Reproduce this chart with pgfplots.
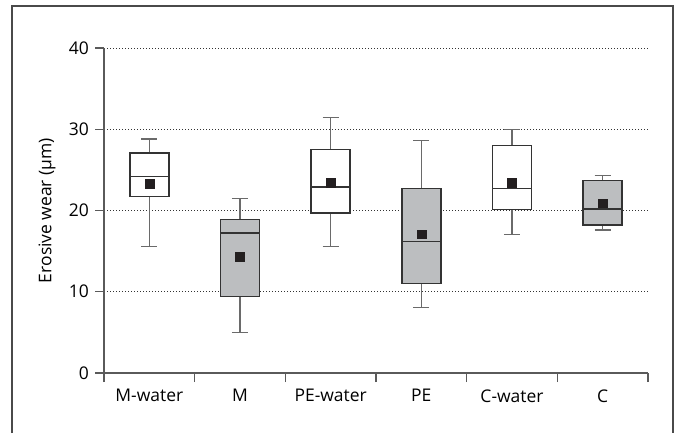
\documentclass[border=0pt]{standalone}
\usepackage{fontspec}
\setmainfont{Open Sans}
\usepackage{pgfplots}
\pgfplotsset{compat=1.18}
\usepgfplotslibrary{statistics}

\definecolor{boxfill}{HTML}{BCBEC0}
\definecolor{boxline}{HTML}{333333}
\definecolor{whisk}{HTML}{6A6A6A}
\definecolor{axisc}{HTML}{5A5A5A}
\definecolor{meanc}{HTML}{231F20}
\definecolor{framec}{HTML}{4A4A4A}

% one pixel of the reference = 0.75pt
\begin{document}
\fontsize{13.1}{15}\selectfont
\begin{tikzpicture}
\useasboundingbox (0,0) rectangle (505.5pt,324.75pt);
\draw[framec, line width=1.5pt] (9pt,0pt) -- (9pt,319.9pt) -- (504.75pt,319.9pt) -- (504.75pt,0pt);

\begin{axis}[
  at={(78pt,45pt)}, anchor=south west,
  scale only axis,
  width=408pt, height=243.75pt,
  xmin=0.5, xmax=6.5,
  ymin=0, ymax=40,
  axis x line=bottom, axis y line=left,
  axis line style={-, axisc, line width=0.8pt},
  tick align=outside,
  ytick={0,10,20,30,40},
  major tick length=6.75pt,
  minor tick length=6.75pt,
  tick style={axisc, line width=0.8pt},
  xtick={1,...,6},
  xticklabels={M-water, M, PE-water, PE, C-water, C},
  major x tick style={draw=none},
  minor xtick={0.5,1.5,2.5,3.5,4.5,5.5,6.5},
  ymajorgrids,
  grid style={black!80, line width=0.6pt, dash pattern=on 0.75pt off 1.5pt},
  /pgf/number format/assume math mode=true,
  ticklabel style={font=\fontsize{13.1}{15}\selectfont},
  xticklabel style={yshift=-1pt},
  ylabel={Erosive wear (µm)},
  every axis y label/.style={at={(axis description cs:-0.1048,0.5)}, rotate=90, anchor=center},
  boxplot/draw direction=y,
]
\pgfplotsset{
  boxplot/box extend=0.43,
  boxplot/whisker extend=0.18,
  boxplot/every box/.style={draw=boxline, line width=1.1pt},
  boxplot/every median/.style={draw=boxline, line width=1.3pt},
  boxplot/every whisker/.style={draw=whisk, line width=0.8pt},
}
% M-water
\addplot+[draw=boxline, fill=white, solid, mark=none, boxplot prepared={draw position=1,
  lower whisker=15.6, lower quartile=21.7, median=24.2,
  upper quartile=27.1, upper whisker=28.8}] coordinates {};
% M
\addplot+[draw=boxline, fill=boxfill, solid, mark=none, boxplot prepared={draw position=2,
  lower whisker=5.0, lower quartile=9.4, median=17.2,
  upper quartile=18.9, upper whisker=21.5}] coordinates {};
% PE-water
\addplot+[draw=boxline, fill=white, solid, mark=none, boxplot prepared={draw position=3,
  lower whisker=15.6, lower quartile=19.7, median=22.9,
  upper quartile=27.5, upper whisker=31.4}] coordinates {};
% PE
\addplot+[draw=boxline, fill=boxfill, solid, mark=none, boxplot prepared={draw position=4,
  lower whisker=8.1, lower quartile=11.0, median=16.2,
  upper quartile=22.7, upper whisker=28.6}] coordinates {};
% C-water
\addplot+[draw=boxline, fill=white, solid, mark=none, boxplot prepared={draw position=5,
  lower whisker=17.0, lower quartile=20.1, median=22.7,
  upper quartile=28.0, upper whisker=30.0}] coordinates {};
% C
\addplot+[draw=boxline, fill=boxfill, solid, mark=none, boxplot prepared={draw position=6,
  lower whisker=17.6, lower quartile=18.2, median=20.2,
  upper quartile=23.7, upper whisker=24.3}] coordinates {};
% means
\addplot[only marks, mark=square*, mark size=3.3pt,
  mark options={draw=meanc, fill=meanc, line width=0.2pt}]
  coordinates {(1,23.3) (2,14.3) (3,23.4) (4,17.1) (5,23.4) (6,20.9)};
\end{axis}
\end{tikzpicture}
\end{document}
